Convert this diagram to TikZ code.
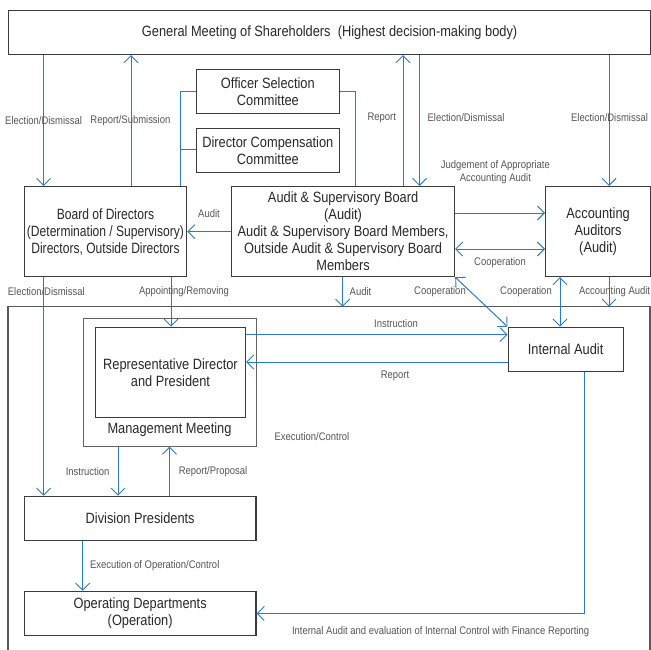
\documentclass[tikz,border=0pt]{standalone}
\usepackage{fontspec}
\setmainfont{Liberation Sans}[FakeStretch=0.86]
\newfontfamily\narrowfont{Liberation Sans}[FakeStretch=0.81]
\usetikzlibrary{arrows.meta,calc}
\definecolor{arrowblue}{RGB}{46,122,192}
\definecolor{boxline}{RGB}{60,60,60}
\definecolor{boxtext}{RGB}{40,40,40}
\definecolor{labeltext}{RGB}{85,85,85}
\begin{document}
\begin{tikzpicture}[x=1pt,y=-1pt,
  box/.style={draw=boxline,line width=1.2pt,anchor=north west,inner sep=0pt,align=center,text=boxtext,font=\fontsize{14.9}{17}\selectfont},
  btext/.style={text=boxtext,inner sep=0pt,align=center,font=\fontsize{14.9}{17}\selectfont},
  lbl/.style={text=labeltext,inner sep=0pt,align=center,font=\fontsize{11}{13}\selectfont},
  tipv/.tip={Straight Barb[length=7pt,width=14pt,line width=0.9pt]},
  arr/.style={draw=arrowblue,line width=1pt,-tipv},
  darr/.style={draw=arrowblue,line width=1pt,tipv-tipv},
  link/.style={draw=arrowblue,line width=1pt},
  frameline/.style={draw=boxline!85,line width=1.2pt}]
\useasboundingbox (0,0) rectangle (651,650);

% boxes
\node[box,minimum width=642pt,minimum height=44pt] (gm) at (8,10) {General Meeting of Shareholders\ \ (Highest decision-making body)};
\node[box,minimum width=142.5pt,minimum height=44pt] (osc) at (196,69) {Officer Selection\\Committee};
\node[box,minimum width=142.5pt,minimum height=44pt] (dcc) at (196,128) {Director Compensation\\Committee};
\node[box,minimum width=162.3pt,minimum height=90pt,font=\fontsize{14.9}{17}\narrowfont] (bod) at (23.7,186) {Board of Directors\\(Determination / Supervisory)\\Directors, Outside Directors};
\node[box,minimum width=223pt,minimum height=90pt] (asb) at (231,186) {Audit \& Supervisory Board\\(Audit)\\Audit \& Supervisory Board Members,\\Outside Audit \& Supervisory Board\\Members};
\node[box,minimum width=105pt,minimum height=90pt] (aa) at (545,186) {Accounting\\Auditors\\(Audit)};

% outer frame (open at the bottom)
\coordinate (ftop) at (0,306.7);
\draw[frameline] (8,651) -- (8,306.7) -- (650,306.7) -- (650,651);

\node[box,draw=boxline!80,line width=1pt,minimum width=173pt,minimum height=127.7pt] (mm) at (83,318) {};
\node[box,minimum width=150.3pt,minimum height=90pt] (rdp) at (94.7,326.7) {Representative Director\\and President};
\node[btext] (mmt) at (169.5,430) {Management Meeting};
\node[box,minimum width=115pt,minimum height=44.3pt] (ia) at (507.5,326.7) {Internal Audit};
\node[box,minimum width=231.7pt,minimum height=44.3pt] (dp) at (23.7,495.7) {Division Presidents};
\node[box,minimum width=231.7pt,minimum height=44.3pt] (od) at (23.7,590.7) {Operating Departments\\(Operation)};

% x / y guides
\coordinate (xa) at (43.6,0);
\coordinate (xb) at (131,0);
\coordinate (xc) at (180,0);
\coordinate (xd) at (355,0);
\coordinate (xe) at (403,0);
\coordinate (xf) at (419.5,0);
\coordinate (xg) at (609,0);
\coordinate (xh) at (342.6,0);
\coordinate (xi) at (560,0);
\coordinate (xj) at (171,0);
\coordinate (xk) at (118,0);
\coordinate (xl) at (169.5,0);
\coordinate (xm) at (82.6,0);
\coordinate (xn) at (584.7,0);
\coordinate (y1) at (0,92);
\coordinate (y2) at (0,150);
\coordinate (y3) at (0,231.7);
\coordinate (y4) at (0,213);
\coordinate (y5) at (0,249);
\coordinate (y6) at (0,334.7);
\coordinate (y7) at (0,362);

% connectors: top level
\draw[arr] (gm.south -| xa) -- (bod.north -| xa);
\draw[arr] (bod.north -| xb) -- (gm.south -| xb);
\draw[link] (bod.north -| xc) -- (xc |- y1) -- (osc.west |- y1);
\draw[link] (xc |- y2) -- (dcc.west |- y2);
\draw[link] (osc.east |- y1) -- (xd |- y1) -- (asb.north -| xd);
\draw[arr] (asb.north -| xe) -- (gm.south -| xe);
\draw[arr] (gm.south -| xf) -- (asb.north -| xf);
\draw[arr] (gm.south -| xg) -- (aa.north -| xg);

\draw[arr] (asb.west |- y3) -- (bod.east |- y3);
\draw[arr] (asb.east |- y4) -- (aa.west |- y4);
\draw[darr] (asb.east |- y5) -- (aa.west |- y5);

\draw[arr] (asb.south -| xh) -- (ftop -| xh);
\draw[darr] (asb.south east) -- (ia.north west);
\draw[darr] (aa.south -| xi) -- (ia.north -| xi);
\draw[arr] (aa.south -| xg) -- (ftop -| xg);

\draw[arr] (bod.south -| xa) -- (dp.north -| xa);
\draw[arr] (bod.south -| xj) -- (rdp.north -| xj);

\draw[arr] (rdp.east |- y6) -- (ia.west |- y6);
\draw[arr] (ia.west |- y7) -- (rdp.east |- y7);

\draw[arr] (mm.south -| xk) -- (dp.north -| xk);
\draw[arr] (dp.north -| xl) -- (mm.south -| xl);
\draw[arr] (dp.south -| xm) -- (od.north -| xm);
\draw[arr] (ia.south -| xn) |- (od.east);

% labels
\node[lbl] (l1) at (43.6,121) {Election/Dismissal};
\node[lbl] (l2) at (130.4,121) {Report/Submission};
\node[lbl] (l3) at (381.8,118) {Report};
\node[lbl] (l4) at (466,118) {Election/Dismissal};
\node[lbl] (l5) at (609.5,118) {Election/Dismissal};
\node[lbl] (l6) at (495.4,172.5) {Judgement of Appropriate\\Accounting Audit};
\node[lbl] (l7) at (209,214) {Audit};
\node[lbl] (l8) at (500,263) {Cooperation};
\node[lbl] (l9) at (46.3,292) {Election/Dismissal};
\node[lbl] (l10) at (184,292) {Appointing/Removing};
\node[lbl] (l11) at (360.5,292) {Audit};
\node[lbl] (l12) at (440,292) {Cooperation};
\node[lbl] (l13) at (526,292) {Cooperation};
\node[lbl] (l14) at (614.6,292) {Accounting Audit};
\node[lbl] (l15) at (396,324) {Instruction};
\node[lbl] (l16) at (395,376) {Report};
\node[lbl] (l17) at (312,436.7) {Execution/Control};
\node[lbl] (l18) at (87.6,472) {Instruction};
\node[lbl] (l19) at (213,472) {Report/Proposal};
\node[lbl] (l20) at (154.7,566) {Execution of Operation/Control};
\node[lbl] (l21) at (440.6,632) {Internal Audit and evaluation of Internal Control with Finance Reporting};
\end{tikzpicture}
\end{document}
